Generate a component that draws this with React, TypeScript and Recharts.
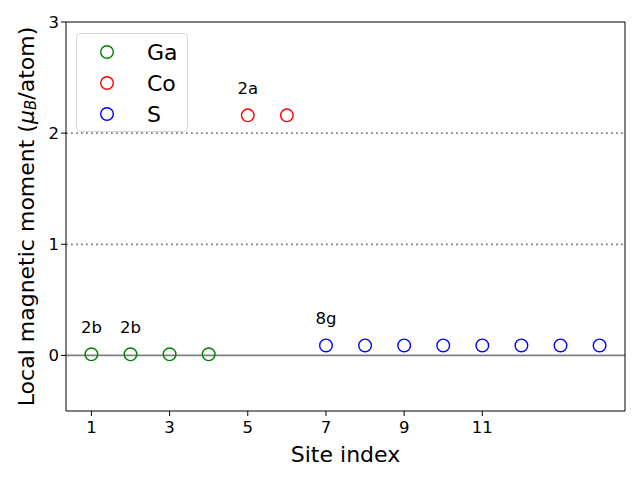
import {
  ScatterChart,
  Scatter,
  XAxis,
  YAxis,
  ReferenceLine,
  Label
} from "recharts";

const gaSites = [1, 2, 3, 4];
const gaMoments = [0.01, 0.01, 0.01, 0.01];
const coSites = [5, 6];
const coMoments = [2.16, 2.16];
const sSites = [7, 8, 9, 10, 11, 12, 13, 14];
const sMoments = [0.09, 0.09, 0.09, 0.09, 0.09, 0.09, 0.09, 0.09];

const noteTexts = ["2b", "2b", "2a", "8g"];
const noteSites = [1, 2, 5, 7];
const noteHeights = [0.2, 0.2, 2.35, 0.28];

const xTicks = [1, 3, 5, 7, 9, 11];
const yTicks = [0, 1, 2, 3];

const toPoints = (xs: number[], ys: number[]) => xs.map((x, i) => ({ x, y: ys[i] }));

const series = [
  { name: "Ga", color: "green", data: toPoints(gaSites, gaMoments) },
  { name: "Co", color: "red", data: toPoints(coSites, coMoments) },
  { name: "S", color: "blue", data: toPoints(sSites, sMoments) }
];

const notes = noteTexts.map((t, i) => ({ x: noteSites[i], y: noteHeights[i], text: t }));

const font = "DejaVu Sans, sans-serif";

function ringShape(color: string) {
  return (props: any) => (
    <circle cx={props.cx} cy={props.cy} r={6.3} fill="none" stroke={color} strokeWidth={1.4} />
  );
}

function noteShape(props: any) {
  return (
    <text x={props.cx} y={props.cy} textAnchor="middle" fontSize={16.5} fill="#000" fontFamily={font}>
      {props.payload.text}
    </text>
  );
}

function LegendBox() {
  return (
    <svg width={112} height={99} style={{ position: "absolute", left: 76, top: 33 }}>
      <rect x={0.5} y={0.5} width={111} height={98} rx={4} fill="#fff" fillOpacity={0.8} stroke="#d6d6d6" />
      {series.map((s, i) => (
        <g key={s.name}>
          <circle cx={31} cy={19 + i * 31} r={6.3} fill="none" stroke={s.color} strokeWidth={1.4} />
          <text x={71} y={19 + i * 31} dominantBaseline="central" fontSize={22} fontFamily={font} fill="#000">
            {s.name}
          </text>
        </g>
      ))}
    </svg>
  );
}

function YLabel(props: any) {
  const vb = props.viewBox;
  const cx = 26;
  const cy = vb.y + vb.height / 2;
  return (
    <text
      x={cx}
      y={cy}
      transform={`rotate(-90, ${cx}, ${cy})`}
      textAnchor="middle"
      dominantBaseline="central"
      fontSize={22}
      fontFamily={font}
      fill="#000"
    >
      Local magnetic moment (<tspan fontStyle="italic">μ</tspan>
      <tspan fontStyle="italic" fontSize={15} dy={5}>B</tspan>
      <tspan dy={-5}>/atom)</tspan>
    </text>
  );
}

export default function App() {
  return (
    <div style={{ position: "absolute", left: 0, top: 0, width: 640, height: 480, background: "#fff" }}>
      <ScatterChart width={640} height={480} margin={{ top: 22, right: 15, bottom: 0, left: 0 }}>
        <XAxis
          type="number"
          dataKey="x"
          domain={[0.35, 14.65]}
          ticks={xTicks}
          allowDataOverflow
          height={69}
          tickSize={5}
          tickMargin={5}
          stroke="#000"
          tick={{ fill: "#000", fontSize: 16.5, fontFamily: font }}
        >
          <Label value="Site index" position="insideBottom" offset={18} fontSize={22} fontFamily={font} fill="#000" />
        </XAxis>
        <YAxis
          type="number"
          dataKey="y"
          domain={[-0.5, 3]}
          ticks={yTicks}
          allowDataOverflow
          width={66}
          tickSize={5}
          stroke="#000"
          tick={{ fill: "#000", fontSize: 16.5, fontFamily: font }}
          label={{ content: YLabel }}
        />
        <ReferenceLine y={0} stroke="#808080" strokeWidth={1.8} />
        <ReferenceLine y={1} stroke="#808080" strokeWidth={1.8} strokeDasharray="1.8 3.2" />
        <ReferenceLine y={2} stroke="#808080" strokeWidth={1.8} strokeDasharray="1.8 3.2" />
        <ReferenceLine y={3} stroke="#000" />
        <ReferenceLine x={14.65} stroke="#000" />
        {series.map((s) => (
          <Scatter
            key={s.name}
            name={s.name}
            data={s.data}
            shape={ringShape(s.color)}
            isAnimationActive={false}
          />
        ))}
        <Scatter data={notes} shape={noteShape} legendType="none" isAnimationActive={false} />
      </ScatterChart>
      <LegendBox />
    </div>
  );
}
